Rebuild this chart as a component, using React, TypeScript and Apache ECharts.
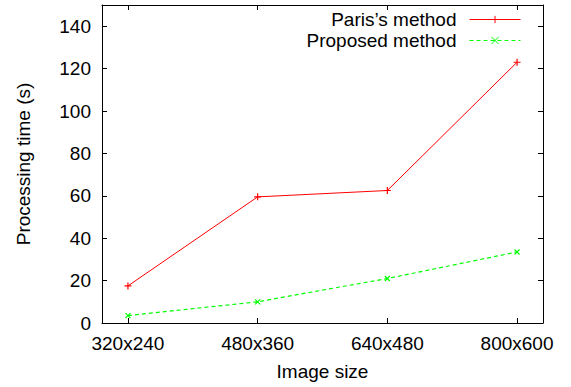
import React, { useEffect, useRef } from "react";
import * as echarts from "echarts";

const categories = ["320x240", "480x360", "640x480", "800x600"];
const parisValues = [17.5, 59.5, 62.5, 123];
const proposedValues = [3.5, 10, 21, 33.5];
const yTicks = [0, 20, 40, 60, 80, 100, 120, 140];

const FONT = "'Liberation Sans', Arial, Helvetica, sans-serif";
const PLUS = "path://M0,5L10,5M5,0L5,10";
const CROSS = "path://M0,0L10,10M10,0L0,10";

export default function App() {
  const ref = useRef<HTMLDivElement>(null);
  useEffect(() => {
    if (!ref.current) return;
    const chart = echarts.init(ref.current, undefined, { renderer: "svg" });
    const xIdx = categories.map((_, i) => i);
    const axisCommon = {
      axisLine: { show: true, onZero: false, lineStyle: { color: "#000", width: 1 } },
      splitLine: { show: false },
    };
    chart.setOption({
      animation: false,
      backgroundColor: "#fff",
      textStyle: { fontFamily: FONT },
      grid: { left: 102, right: 28, top: 5, bottom: 64 },
      legend: {
        orient: "vertical",
        right: 50,
        top: 10,
        padding: 0,
        align: "right",
        itemWidth: 51,
        itemHeight: 9,
        itemGap: 2,
        lineStyle: { width: 1 },
        itemStyle: { borderWidth: 1 },
        textStyle: { fontSize: 19, lineHeight: 15, color: "#000", fontFamily: FONT, padding: [0, 8, 0, 0] },
        data: ["Paris\u2019s method", "Proposed method"],
      },
      xAxis: [
        {
          type: "value",
          min: -0.2,
          max: 3.2,
          position: "bottom",
          name: "Image size",
          nameLocation: "middle",
          nameGap: 39,
          nameTextStyle: { fontSize: 19, color: "#000", fontFamily: FONT },
          ...axisCommon,
          axisTick: { show: true, inside: true, length: 5, customValues: xIdx, lineStyle: { color: "#000" } },
          axisLabel: {
            show: true,
            customValues: xIdx,
            margin: 11,
            fontSize: 19,
            color: "#000",
            fontFamily: FONT,
            formatter: (v: number) => categories[Math.round(v)] ?? "",
          },
        },
        {
          type: "value",
          min: -0.2,
          max: 3.2,
          position: "top",
          ...axisCommon,
          axisTick: { show: true, inside: true, length: 5, customValues: xIdx, lineStyle: { color: "#000" } },
          axisLabel: { show: false },
        },
      ],
      yAxis: [
        {
          type: "value",
          min: 0,
          max: 150,
          position: "left",
          name: "Processing time (s)",
          nameLocation: "middle",
          nameGap: 69,
          nameTextStyle: { fontSize: 19, color: "#000", fontFamily: FONT },
          ...axisCommon,
          axisTick: { show: true, inside: true, length: 5, customValues: yTicks, lineStyle: { color: "#000" } },
          axisLabel: { show: true, customValues: yTicks, margin: 11, fontSize: 19, color: "#000", fontFamily: FONT },
        },
        {
          type: "value",
          min: 0,
          max: 150,
          position: "right",
          ...axisCommon,
          axisTick: { show: true, inside: true, length: 5, customValues: yTicks, lineStyle: { color: "#000" } },
          axisLabel: { show: false },
        },
      ],
      series: [
        {
          name: "Paris\u2019s method",
          type: "line",
          xAxisIndex: 0,
          yAxisIndex: 0,
          data: parisValues.map((v, i) => [i, v]),
          symbol: PLUS,
          symbolSize: 7,
          showAllSymbol: true,
          lineStyle: { color: "#ff0000", width: 1 },
          itemStyle: { color: "#ff0000", borderColor: "#ff0000", borderWidth: 1.2 },
          emphasis: { disabled: true },
        },
        {
          name: "Proposed method",
          type: "line",
          xAxisIndex: 0,
          yAxisIndex: 0,
          data: proposedValues.map((v, i) => [i, v]),
          symbol: CROSS,
          symbolSize: 5,
          showAllSymbol: true,
          lineStyle: { color: "#00ff00", width: 1.2, type: [4, 3] },
          itemStyle: { color: "#00ff00", borderColor: "#00ff00", borderWidth: 1.2 },
          emphasis: { disabled: true },
        },
      ],
    });
    return () => chart.dispose();
  }, []);
  return <div ref={ref} style={{ width: 571, height: 387, position: "absolute", left: 0, top: 0 }} />;
}
